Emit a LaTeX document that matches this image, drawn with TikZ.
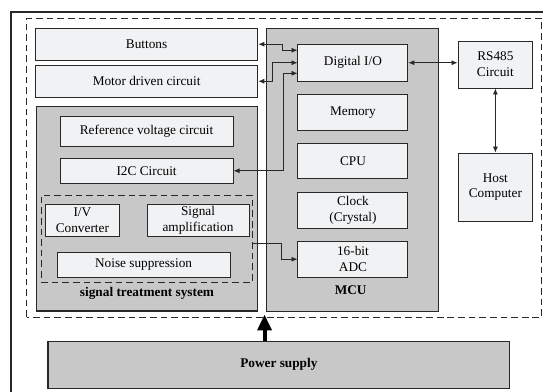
\documentclass[tikz,border=0pt]{standalone}
\usepackage{fontspec}
\setmainfont{Liberation Serif}
\usetikzlibrary{calc,arrows.meta}
\definecolor{blockGray}{RGB}{200,200,200}
\definecolor{blockLight}{RGB}{241,242,244}
\definecolor{blockEdge}{RGB}{40,40,40}

\begin{document}
\begin{tikzpicture}[
  x=1cm,y=1cm,
  every node/.style={align=center},
  unit/.style={draw=blockEdge, fill=blockLight, line width=.7pt, inner sep=0pt},
  group/.style={draw=blockEdge, fill=blockGray, line width=.8pt, inner sep=0pt},
  dashbox/.style={draw=blockEdge, line width=.6pt, dash pattern=on 5pt off 3pt},
  head/.style={font=\bfseries, text=black},
  link/.style={draw=blockEdge, line width=.6pt, {Latex[length=4.5pt,width=3.8pt]}-{Latex[length=4.5pt,width=3.8pt]}},
  feed/.style={draw=blockEdge, line width=.6pt, -{Latex[length=4.5pt,width=3.8pt]}},
  supply/.style={draw=black, line width=3pt, -{Triangle[length=12pt,width=10.5pt]}}
]
\path[use as bounding box] (0,0) rectangle (14.37,10.35);
\draw[blockEdge, line width=1.1pt] (0.29,-0.3) -- (0.29,10.03) -- (14.7,10.03);
\draw[dashbox] (0.71,1.96) rectangle (14.34,9.87);

\node[unit, minimum width=5.89cm, minimum height=.85cm] (btn) at (3.88,9.18) {Buttons};
\node[unit, minimum width=5.89cm, minimum height=.85cm] (motor) at (3.88,8.20) {Motor driven circuit};

\node[group, minimum width=5.87cm, minimum height=5.40cm] (treat) at (3.89,4.82) {};
\node[unit, minimum width=4.58cm, minimum height=.77cm] (vref) at (3.88,6.87) {Reference voltage circuit};
\node[unit, minimum width=4.58cm, minimum height=.66cm] (iic) at (3.88,5.83) {I2C Circuit};
\node[dashbox, inner sep=0pt, minimum width=5.58cm, minimum height=2.30cm] (analog) at (3.88,4.03) {};
\node[unit, minimum width=1.98cm, minimum height=.85cm] (ivc) at (2.18,4.52) {I/V\\Converter};
\node[unit, minimum width=2.70cm, minimum height=.85cm] (amp) at (5.24,4.52) {Signal\\amplification};
\node[unit, minimum width=4.58cm, minimum height=.66cm] (noise) at (3.80,3.35) {Noise suppression};
\node[head] (treatlbl) at (3.89,2.59) {signal treatment system};

\node[group, minimum width=4.55cm, minimum height=7.51cm] (mcu) at (9.34,5.85) {};
\node[unit, minimum width=2.91cm, minimum height=.98cm] (dio) at (9.34,8.69) {Digital I/O};
\node[unit, minimum width=2.91cm, minimum height=.95cm] (mem) at (9.34,7.38) {Memory};
\node[unit, minimum width=2.91cm, minimum height=.95cm] (cpu) at (9.34,6.09) {CPU};
\node[unit, minimum width=2.91cm, minimum height=.95cm] (clk) at (9.34,4.79) {Clock\\(Crystal)};
\node[unit, minimum width=2.91cm, minimum height=.95cm] (adc) at (9.34,3.49) {16-bit\\ADC};
\node[head] (mculbl) at (9.28,2.67) {MCU};

\node[unit, minimum width=1.98cm, minimum height=1.24cm] (rs) at (13.11,8.64) {RS485\\Circuit};
\node[unit, minimum width=1.98cm, minimum height=1.80cm] (host) at (13.11,5.40) {Host\\Computer};

\node[group, head, minimum width=12.22cm, minimum height=1.24cm] (power) at (7.38,0.70) {Power supply};

\draw[link] (btn.east) -- ++(0.635,0) |- ($(dio.west)+(0,0.33)$);
\draw[link] (motor.east) -- ++(0.375,0) |- (dio.west);
\draw[link] (iic.east) -- ++(1.32,0) |- ($(dio.west)+(0,-0.28)$);
\draw[feed] ($(analog.east)+(0,-0.11)$) -- ++(0.76,0) |- (adc.west);
\draw[link] (dio.east) -- (dio.east -| rs.west);
\draw[link] (rs.south) -- (host.north);

\coordinate (pwrtip) at ($(mcu.south west)+(-0.05,-0.055)$);
\draw[supply] (power.north -| pwrtip) -- (pwrtip);
\end{tikzpicture}
\end{document}
